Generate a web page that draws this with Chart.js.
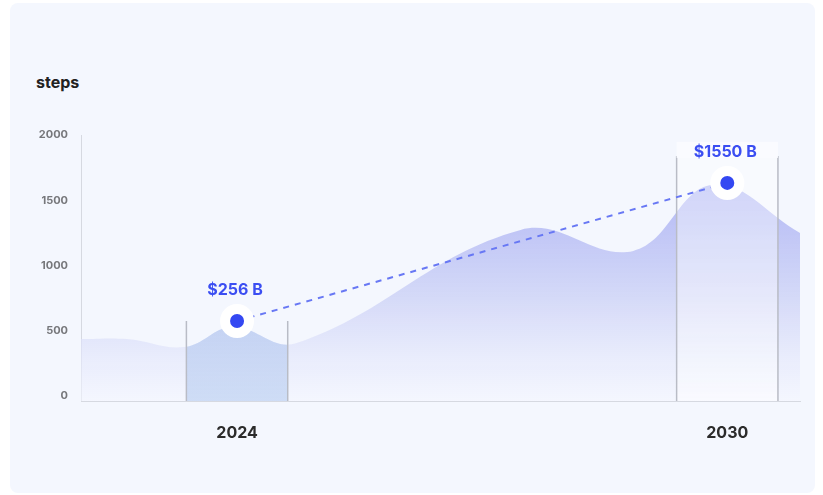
<!DOCTYPE html>
<html>
<head>
<meta charset="utf-8">
<script src="https://cdn.jsdelivr.net/npm/chart.js@4.4.1/dist/chart.umd.min.js"></script>
<style>
  html, body { margin: 0; padding: 0; background: #ffffff; }
  #wrap { position: relative; width: 823px; height: 495px; font-family: Inter, "Noto Sans", sans-serif; }
  #card { position: absolute; left: 10px; top: 3px; width: 805px; height: 490px; background: #f4f7fe; border-radius: 8px; }
  #unit { position: absolute; left: 36px; top: 72px; font-size: 16px; font-weight: 700; color: #222; }
  #box { position: absolute; left: 0; top: 0; width: 823px; height: 495px; }
</style>
</head>
<body>
<div id="wrap">
  <div id="card"></div>
  <div id="unit">steps</div>
  <div id="box"><canvas id="chart"></canvas></div>
</div>
<script>
// background area
const areaYears = [2022.09, 2022.65, 2023.36, 2023.94, 2024.73, 2027.47, 2028.85, 2029.82, 2030.89];
const areaValues = [437, 437, 376, 529, 406, 1273, 1112, 1618, 1250];

// highlighted points
const pointYears = [2024, 2030];
const pointValues = [575, 1633];
const pointLabels = ['$256 B', '$1550 B'];

const yTicks = [0, 500, 1000, 1500, 2000];
const xTicks = [2024, 2030];

const bandHalf = 0.62;
const blue = '#3448f2';

const areaPoints = areaYears.map((x, i) => ({ x: x, y: areaValues[i] }));
const markPoints = pointYears.map((x, i) => ({ x: x, y: pointValues[i] }));

const bandsPlugin = {
    id: 'bands',
    afterDatasetDraw(chart, args) {
        if (args.index !== 1) return;
        const { ctx, scales: { x, y } } = chart;
        const bottom = y.bottom;

        // 2030 band: light overlay + label box
        const l30 = x.getPixelForValue(2030 - bandHalf);
        const r30 = x.getPixelForValue(2030 + bandHalf);
        const dotY30 = y.getPixelForValue(pointValues[1]);
        ctx.save();
        ctx.fillStyle = 'rgba(255,255,255,0.4)';
        ctx.fillRect(l30, dotY30 - 27, r30 - l30, bottom - dotY30 + 27);

        ctx.strokeStyle = '#b9bcc6';
        ctx.lineWidth = 1.5;
        ctx.beginPath();
        ctx.moveTo(l30, dotY30 - 27); ctx.lineTo(l30, bottom);
        ctx.moveTo(r30, dotY30 - 27); ctx.lineTo(r30, bottom);
        ctx.stroke();

        ctx.fillStyle = '#fafbff';
        ctx.fillRect(l30, dotY30 - 41, r30 - l30, 16);

        // 2024 band lines
        const l24 = x.getPixelForValue(2024 - bandHalf);
        const r24 = x.getPixelForValue(2024 + bandHalf);
        const dotY24 = y.getPixelForValue(pointValues[0]);
        ctx.beginPath();
        ctx.moveTo(l24, dotY24); ctx.lineTo(l24, bottom);
        ctx.moveTo(r24, dotY24); ctx.lineTo(r24, bottom);
        ctx.stroke();

        // value labels
        ctx.fillStyle = '#3b4ef2';
        ctx.font = '700 16px Inter, "Noto Sans", sans-serif';
        ctx.textAlign = 'center';
        ctx.textBaseline = 'middle';
        pointYears.forEach((yr, i) => {
            const px = x.getPixelForValue(yr);
            const py = y.getPixelForValue(pointValues[i]);
            ctx.fillText(pointLabels[i], px - 2, py - 31);
        });
        ctx.restore();
    }
};

new Chart(document.getElementById('chart'), {
    type: 'line',
    data: {
        datasets: [
            {
                // dashed connector with dots
                data: markPoints,
                borderColor: '#6878f4',
                borderWidth: 2,
                borderDash: [6, 6],
                pointRadius: 12,
                pointBackgroundColor: blue,
                pointBorderColor: '#ffffff',
                pointBorderWidth: 10,
                pointHoverRadius: 12,
                fill: false,
                tension: 0
            },
            {
                // same area, tinted inside the 2024 band
                data: areaPoints,
                borderWidth: 0,
                pointRadius: 0,
                tension: 0.4,
                fill: 'start',
                backgroundColor: (c) => {
                    const { chart } = c;
                    const { chartArea, scales } = chart;
                    if (!chartArea) return 'transparent';
                    const l = scales.x.getPixelForValue(2024 - bandHalf);
                    const r = scales.x.getPixelForValue(2024 + bandHalf);
                    const w = chartArea.right - chartArea.left;
                    const g = chart.ctx.createLinearGradient(chartArea.left, 0, chartArea.right, 0);
                    const a = (l - chartArea.left) / w, b = (r - chartArea.left) / w;
                    g.addColorStop(0, 'rgba(0,0,0,0)');
                    g.addColorStop(a, 'rgba(0,0,0,0)');
                    g.addColorStop(a, 'rgba(175,198,238,0.55)');
                    g.addColorStop(b, 'rgba(175,198,238,0.55)');
                    g.addColorStop(b, 'rgba(0,0,0,0)');
                    g.addColorStop(1, 'rgba(0,0,0,0)');
                    return g;
                }
            },
            {
                // main area
                data: areaPoints,
                borderWidth: 0,
                pointRadius: 0,
                tension: 0.4,
                fill: 'start',
                backgroundColor: (c) => {
                    const { chartArea, ctx } = c.chart;
                    if (!chartArea) return 'transparent';
                    const g = ctx.createLinearGradient(0, chartArea.top + 40, 0, chartArea.bottom);
                    g.addColorStop(0, 'rgba(165,172,243,0.9)');
                    g.addColorStop(0.55, 'rgba(205,210,246,0.8)');
                    g.addColorStop(1, 'rgba(244,246,254,0.6)');
                    return g;
                }
            }
        ]
    },
    options: {
        responsive: true,
        maintainAspectRatio: false,
        animation: false,
        layout: { padding: { top: 135, right: 23, bottom: 0, left: 0 } },
        plugins: {
            legend: { display: false },
            tooltip: { enabled: false }
        },
        scales: {
            x: {
                type: 'linear',
                min: 2022.09,
                max: 2030.89,
                afterBuildTicks: (s) => { s.ticks = xTicks.map(v => ({ value: v })); },
                afterFit: (s) => { s.height = 94; },
                grid: { display: true, color: 'rgba(0,0,0,0)', drawTicks: false },
                border: { display: true, color: '#d6d9e1', width: 1 },
                ticks: {
                    padding: 23,
                    color: '#2b2b2b',
                    font: { family: 'Inter, "Noto Sans", sans-serif', size: 16, weight: '700' },
                    callback: (v) => String(v)
                }
            },
            y: {
                min: -38,
                max: 2000,
                afterBuildTicks: (s) => { s.ticks = yTicks.map(v => ({ value: v })); },
                afterFit: (s) => { s.width = 81; },
                grid: { display: true, color: 'rgba(0,0,0,0)', drawTicks: false },
                border: { display: true, color: '#d6d9e1', width: 1 },
                ticks: {
                    padding: 13,
                    color: '#76777b',
                    font: { family: 'Inter, "Noto Sans", sans-serif', size: 11, weight: '700' },
                    callback: (v) => String(v)
                }
            }
        }
    },
    plugins: [bandsPlugin]
});
</script>
</body>
</html>
